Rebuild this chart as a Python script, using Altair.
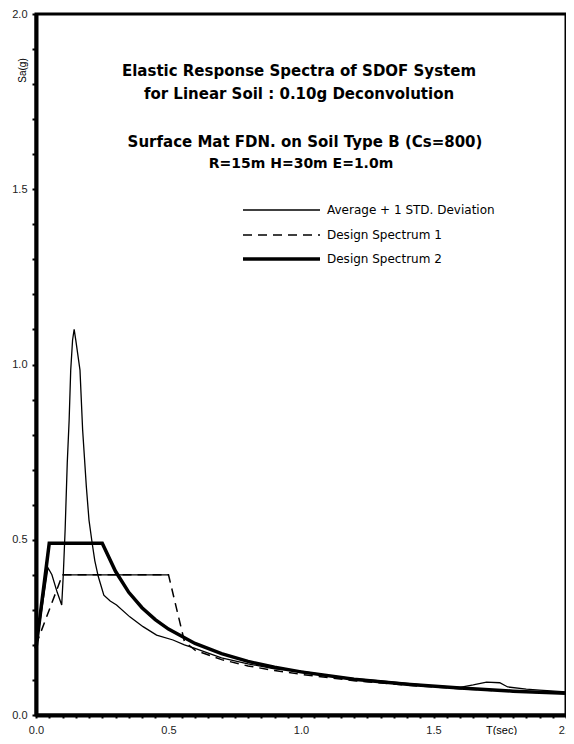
import altair as alt
import pandas as pd
import numpy as np

# ---- data ----
avg_T = [0.0, 0.045, 0.06, 0.08, 0.097, 0.103, 0.11, 0.118, 0.125, 0.131, 0.138, 0.144,
         0.15, 0.166, 0.176, 0.19, 0.2, 0.212, 0.222, 0.235, 0.256, 0.28, 0.304, 0.354,
         0.404, 0.455, 0.517, 0.56, 0.6, 0.7, 0.8, 0.9, 1.0, 1.1, 1.2, 1.3, 1.4, 1.5,
         1.6, 1.65, 1.7, 1.75, 1.78, 1.85, 1.9, 2.0]
avg_Sa = [0.19, 0.42, 0.40, 0.35, 0.314, 0.40, 0.53, 0.72, 0.84, 0.984, 1.07, 1.10,
          1.07, 0.984, 0.813, 0.651, 0.556, 0.49, 0.44, 0.395, 0.342, 0.325, 0.314, 0.28,
          0.252, 0.228, 0.214, 0.20, 0.19, 0.163, 0.146, 0.132, 0.125, 0.113, 0.104, 0.097, 0.09, 0.083,
          0.079, 0.086, 0.094, 0.092, 0.08, 0.074, 0.071, 0.066]

ds1_T = [0.0, 0.1, 0.5, 0.56, 0.6, 0.7, 0.8, 0.9, 1.0, 1.2, 1.4, 1.6, 1.8, 2.0]
ds1_Sa = [0.2, 0.4, 0.4, 0.21, 0.185, 0.158, 0.14, 0.127, 0.116, 0.098, 0.085, 0.075, 0.067, 0.061]

ds2_T = [0.0, 0.05, 0.25, 0.3, 0.35, 0.4, 0.45, 0.5, 0.6, 0.7, 0.8, 0.9, 1.0, 1.2, 1.4, 1.6, 1.8, 2.0]
ds2_Sa = [0.19, 0.49, 0.49, 0.41, 0.35, 0.306, 0.272, 0.245, 0.204, 0.175, 0.153, 0.136, 0.123,
          0.102, 0.088, 0.077, 0.068, 0.062]

series_names = ["Average + 1 STD. Deviation", "Design Spectrum 1", "Design Spectrum 2"]
title_lines = ["Elastic Response Spectra of SDOF System",
               "for Linear Soil : 0.10g Deconvolution",
               "Surface Mat FDN. on Soil Type B (Cs=800)",
               "R=15m H=30m E=1.0m"]

x_ticks = [round(v, 2) for v in np.arange(0, 2.0001, 0.05)]
y_ticks = [round(v, 1) for v in np.arange(0, 2.0001, 0.1)]

df = pd.concat([
    pd.DataFrame({"T": avg_T, "Sa": avg_Sa, "s": series_names[0]}),
    pd.DataFrame({"T": ds1_T, "Sa": ds1_Sa, "s": series_names[1]}),
    pd.DataFrame({"T": ds2_T, "Sa": ds2_Sa, "s": series_names[2]}),
])

FONT = "Liberation Sans"
TFONT = "DejaVu Sans"
label_expr = "abs(datum.value*2 - round(datum.value*2)) < 0.001 ? format(datum.value, '.1f') : ''"

xenc = alt.X("T:Q", scale=alt.Scale(domain=[0, 2], nice=False),
             axis=alt.Axis(values=x_ticks, labelExpr=label_expr, title="T(sec)",
                           titleX=465, titleY=15, titleBaseline="middle", titleAlign="center",
                           titleFontWeight="normal", titleFontSize=11, titleFont=FONT,
                           tickSize=3, tickWidth=2, labelPadding=6, labelFontSize=11,
                           labelFont=FONT, labelColor="#222", domainWidth=4,
                           domainColor="black", tickColor="black", grid=False,
                           labelFlush=False, labelOverlap=False))
yenc = alt.Y("Sa:Q", scale=alt.Scale(domain=[0, 2], nice=False),
             axis=alt.Axis(values=y_ticks, labelExpr=label_expr, title="Sa(g)",
                           titleX=-14, titleY=56, titleAngle=270, titleBaseline="middle",
                           titleAlign="center", titleFontWeight="normal", titleFontSize=10,
                           titleFont=FONT, tickSize=4, tickWidth=2, labelPadding=5,
                           labelFontSize=11, labelFont=FONT, labelColor="#222",
                           domainWidth=4, domainColor="black", tickColor="black",
                           grid=False, labelFlush=False, labelOverlap=False))

base = alt.Chart(df)
avg_line = base.transform_filter(alt.datum.s == series_names[0]).mark_line(
    color="black", strokeWidth=1.3).encode(x=xenc, y=yenc)
ds1_line = base.transform_filter(alt.datum.s == series_names[1]).mark_line(
    color="black", strokeWidth=1.5, strokeDash=[9, 6]).encode(x=xenc, y=yenc)
ds1_flat = base.transform_filter(
    (alt.datum.s == series_names[1]) & (alt.datum.T >= 0.1) & (alt.datum.T <= 0.5)
).mark_line(color="black", strokeWidth=1.3).encode(x=xenc, y=yenc)
ds2_line = base.transform_filter(alt.datum.s == series_names[2]).mark_line(
    color="black", strokeWidth=3.5).encode(x=xenc, y=yenc)

one = alt.Data(values=[{}])

def txt(s, x, y, size, bold=True, align="center", font=TFONT):
    return alt.Chart(one).mark_text(text=s, font=font, fontSize=size,
                                    fontWeight="bold" if bold else "normal",
                                    align=align, baseline="middle", color="black").encode(
        x=alt.value(x), y=alt.value(y))

titles = [
    txt(title_lines[0], 263, 57, 15),
    txt(title_lines[1], 263, 80, 15),
    txt(title_lines[2], 269, 128, 15),
    txt(title_lines[3], 265, 150, 14),
]

def leg_rule(y, width, dash=None):
    kw = dict(color="black", strokeWidth=width)
    if dash:
        kw["strokeDash"] = dash
    return alt.Chart(one).mark_rule(**kw).encode(
        x=alt.value(207), x2=alt.value(284), y=alt.value(y))

legend = [
    leg_rule(196, 1.3),
    leg_rule(221, 1.5, [9, 6]),
    leg_rule(245, 3.5),
    txt(series_names[0], 291, 196, 12, bold=False, align="left"),
    txt(series_names[1], 291, 221, 12, bold=False, align="left"),
    txt(series_names[2], 291, 245, 12, bold=False, align="left"),
]

chart = alt.layer(avg_line, ds1_line, ds1_flat, ds2_line, *titles, *legend).properties(
    width=530, height=701,
    autosize=alt.AutoSizeParams(type="none"),
    padding={"left": 28, "top": 6, "right": 0, "bottom": 20},
    background="white",
).configure_view(stroke="black", strokeWidth=3)

chart.save("out.html", embed_options={"renderer": "svg", "actions": False})
